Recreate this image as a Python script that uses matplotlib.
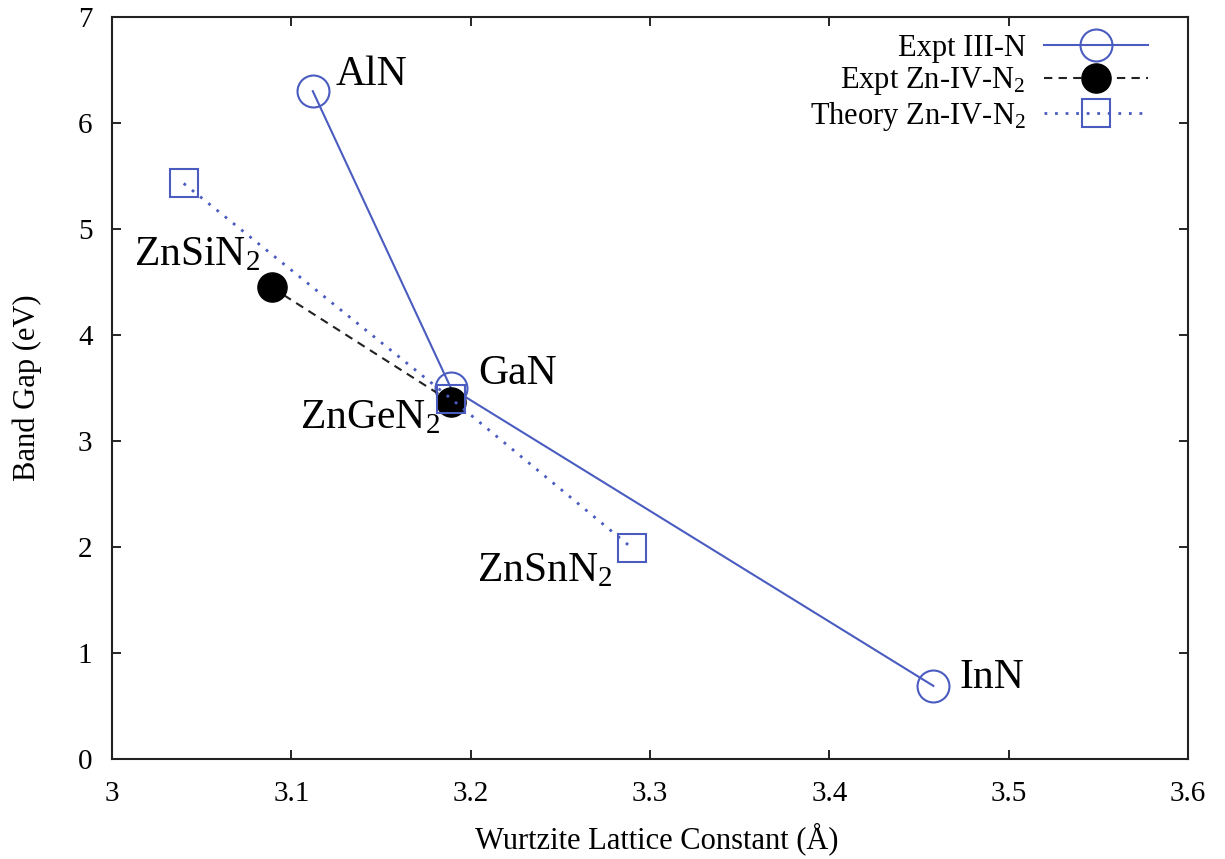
import matplotlib
matplotlib.use("Agg")
import matplotlib.pyplot as plt

plt.rcParams['font.family'] = ['Liberation Serif', 'DejaVu Serif']
plt.rcParams['mathtext.fontset'] = 'custom'
plt.rcParams['mathtext.rm'] = 'Liberation Serif'
plt.rcParams['mathtext.it'] = 'Liberation Serif:italic'

# III-N binaries: lattice constant (A), band gap (eV)
iii_n_names = ['AlN', 'GaN', 'InN']
iii_n_a = [3.112, 3.189, 3.458]
iii_n_gap = [6.30, 3.50, 0.69]

# Zn-IV-N2 experiment
expt_zn_a = [3.089, 3.189]
expt_zn_gap = [4.45, 3.37]

# Zn-IV-N2 theory
theory_names = ['ZnSiN$_2$', 'ZnGeN$_2$', 'ZnSnN$_2$']
theory_a = [3.040, 3.189, 3.290]
theory_gap = [5.43, 3.40, 1.99]

blue = '#4a5cc0'
fs = 21
lfs = 30

fig = plt.figure(figsize=(12.25, 8.59), dpi=100)
ax = fig.add_axes([0.0914, 0.1164, 0.8784, 0.8638])

ax.plot(iii_n_a, iii_n_gap, '-', color=blue, lw=1.5, marker='o', ms=23,
        mfc='none', mec=blue, mew=1.5, label='Expt III-N', zorder=3)
ax.plot(expt_zn_a, expt_zn_gap, '--', color='#222222', lw=1.5, dashes=(4, 3),
        marker='o', ms=21, mfc='black', mec='black',
        label='Expt Zn-IV-N$_2$', zorder=4)
ax.plot(theory_a, theory_gap, color=blue, lw=2, dashes=(1, 2.8), marker='s',
        ms=20, mfc='none', mec=blue, mew=1.5, label='Theory Zn-IV-N$_2$',
        zorder=5)

# point labels
ax.text(3.1246, 6.36, 'AlN', fontsize=lfs, ha='left', va='baseline')
ax.text(3.2045, 3.54, 'GaN', fontsize=lfs, ha='left', va='baseline')
ax.text(3.4726, 0.67, 'InN', fontsize=lfs, ha='left', va='baseline')
ax.text(3.0827, 4.66, theory_names[0], fontsize=lfs, ha='right', va='baseline')
ax.text(3.183, 3.12, theory_names[1], fontsize=lfs, ha='right', va='baseline')
ax.text(3.279, 1.68, theory_names[2], fontsize=lfs, ha='right', va='baseline')

ax.set_xlim(3, 3.6)
ax.set_ylim(0, 7)
ax.set_xticks([3, 3.1, 3.2, 3.3, 3.4, 3.5, 3.6])
ax.set_xticklabels(['3', '3.1', '3.2', '3.3', '3.4', '3.5', '3.6'])
ax.set_yticks(range(0, 8))
ax.tick_params(direction='in', length=6.5, width=1.2, top=True, right=True,
               labelsize=fs)
ax.tick_params(axis='x', pad=16)
ax.tick_params(axis='y', pad=14)
for s in ax.spines.values():
    s.set_linewidth(1.5)
    s.set_color('#222222')

ax.set_xlabel('Wurtzite Lattice Constant (Å)', fontsize=22)
ax.xaxis.label.set_va('baseline')
ax.xaxis.set_label_coords(0.506, -0.12)
ax.set_ylabel('Band Gap (eV)', fontsize=22, labelpad=26)

ax.legend(loc='upper right', bbox_to_anchor=(0.977, 0.998), frameon=False,
          markerfirst=False, fontsize=22, handlelength=3.4,
          handletextpad=0.6, labelspacing=0.08, borderpad=0)

fig.savefig('out.png', dpi=100)
